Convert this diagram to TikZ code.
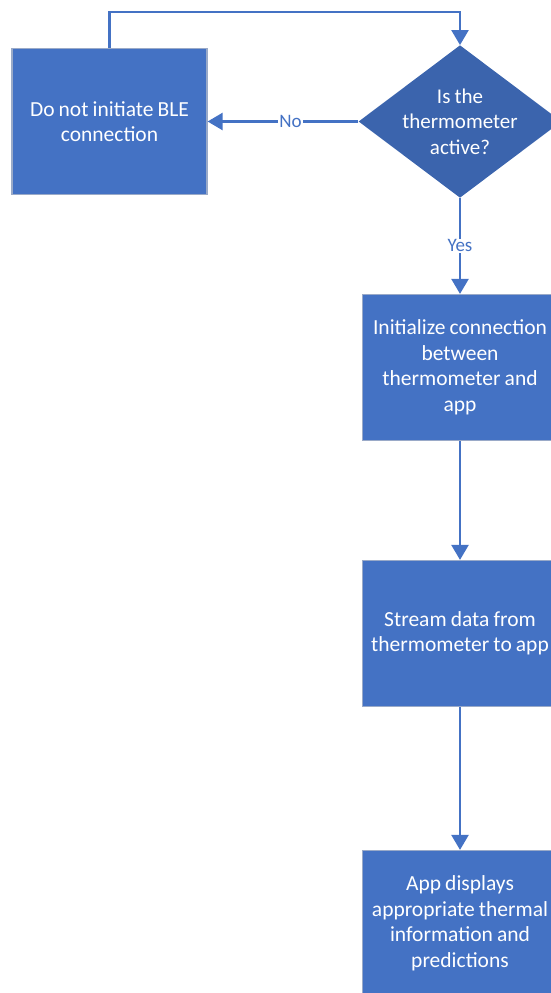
\documentclass[tikz,border=0pt]{standalone}
\usepackage{fontspec}
\setmainfont{Carlito}[WordSpace=0.85]
\usepackage{xcolor}
\usetikzlibrary{arrows.meta,positioning,shapes.geometric}

\definecolor{flowblue}{HTML}{4472C4}
\definecolor{flowdark}{HTML}{3B64AD}
\definecolor{flowedge}{HTML}{9AAAC8}

\begin{document}
\begin{tikzpicture}[
x=1pt, y=-1pt,
box/.style={
    rectangle, draw=flowedge, line width=1.2pt,
    fill=flowblue,
    minimum width=195pt,
    minimum height=146pt,
    text width=194pt,
    align=flush center,
    text=white,
    inner sep=0pt,
    font=\fontsize{21.5}{25.5}\selectfont
},
dec/.style={
    diamond, fill=flowdark,
    aspect=1.33,
    minimum width=196pt,
    minimum height=147pt,
    align=center,
    text=white,
    inner sep=0pt,
    font=\fontsize{21}{25.5}\selectfont
},
lbl/.style={
    fill=white, text=flowblue, inner sep=1pt,
    font=\fontsize{19}{20}\selectfont
},
arr/.style={-{Triangle[length=15pt,width=17pt]}, line width=2.4pt, draw=flowblue}
]
\useasboundingbox (0,0) rectangle (551,993);

\node[box] (noble) at (109.5,121.5) {Do not initiate BLE\\connection};
\node[dec] (decide) at (460,121.5) {Is the\\thermometer\\active?};
\node[box] (init) at (460,367.5) {Initialize connection\\between\\thermometer and\\app};
\node[box] (stream) at (460,633.5) {Stream data from\\thermometer to app};
\node[box] (display) at (460,923.5) {App displays\\appropriate thermal\\information and\\predictions};

\draw[arr] (decide) -- node[lbl, pos=0.45] {No} (noble);
\draw[arr] (decide) -- node[lbl, pos=0.5] {Yes} (init);
\draw[arr] (init) -- (stream);
\draw[arr] (stream) -- (display);
\draw[arr] (noble.north) -- ++(0,-36) -| (decide.north);

\end{tikzpicture}
\end{document}
